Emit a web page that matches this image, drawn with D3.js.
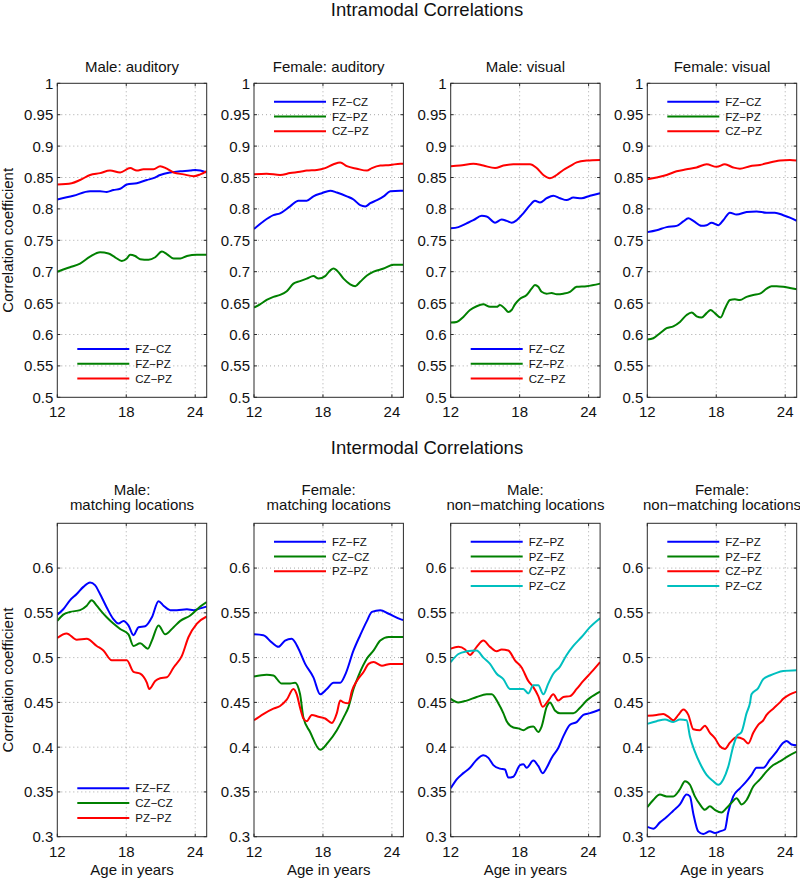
<!DOCTYPE html>
<html><head><meta charset="utf-8">
<script src="https://cdn.jsdelivr.net/npm/d3@7/dist/d3.min.js"></script>
<style>body{margin:0;background:#fff}svg{display:block;font-family:"Liberation Sans",Arial,Helvetica,sans-serif}</style>
</head><body><svg id="c" width="800" height="879"></svg>
<script>
// ---------- DATA ----------
const xTicks = [12, 18, 24];
const topYTicks = [0.5,0.55,0.6,0.65,0.7,0.75,0.8,0.85,0.9,0.95,1];
const topYTickLabels = ["0.5","0.55","0.6","0.65","0.7","0.75","0.8","0.85","0.9","0.95","1"];
const botYTicks = [0.3,0.35,0.4,0.45,0.5,0.55,0.6];
const botYTickLabels = ["0.3","0.35","0.4","0.45","0.5","0.55","0.6"];

const rowTitles = ["Intramodal Correlations", "Intermodal Correlations"];
const topPanelTitles = ["Male: auditory", "Female: auditory", "Male: visual", "Female: visual"];
const botPanelTitles = [["Male:", "matching locations"], ["Female:", "matching locations"],
                        ["Male:", "non\u2212matching locations"], ["Female:", "non\u2212matching locations"]];
const intraLegend = ["FZ\u2212CZ", "FZ\u2212PZ", "CZ\u2212PZ"];
const matchLegend = ["FZ\u2212FZ", "CZ\u2212CZ", "PZ\u2212PZ"];
const nonMatchLegend = ["FZ\u2212PZ", "PZ\u2212FZ", "CZ\u2212PZ", "PZ\u2212CZ"];
const seriesColors = ["#0000ff", "#008000", "#ff0000", "#00bfbf"];

// Male: auditory
const mAud_FZCZ = [[12,0.815],[13.4,0.821],[14.85,0.828],[15.72,0.828],[16.3,0.827],[16.88,0.830],[17.47,0.832],[18.05,0.839],[18.92,0.841],[19.79,0.846],[20.37,0.849],[20.95,0.854],[21.83,0.858],[22.7,0.860],[23.57,0.861],[24,0.862],[24.44,0.861],[25,0.858]];
const mAud_FZPZ = [[12,0.700],[13.1,0.707],[13.98,0.713],[14.85,0.724],[15.72,0.731],[16.45,0.729],[17.03,0.723],[17.61,0.717],[18.05,0.721],[18.34,0.727],[18.77,0.725],[19.21,0.720],[19.94,0.719],[20.52,0.723],[21.1,0.732],[21.53,0.728],[22.12,0.721],[22.7,0.721],[23.28,0.725],[24.15,0.727],[25,0.727]];
const mAud_CZPZ = [[12,0.839],[13.25,0.841],[13.98,0.846],[14.85,0.854],[15.72,0.857],[16.59,0.861],[17.47,0.858],[18.34,0.865],[18.92,0.861],[19.5,0.863],[20.37,0.863],[20.95,0.868],[21.53,0.864],[22.12,0.858],[22.99,0.855],[23.86,0.852],[24.44,0.855],[25,0.860]];
// Female: auditory
const fAud_FZCZ = [[12,0.768],[12.81,0.780],[13.69,0.790],[14.27,0.793],[15.14,0.804],[15.87,0.813],[16.59,0.813],[17.17,0.820],[17.9,0.825],[18.63,0.829],[19.21,0.826],[20.08,0.820],[20.66,0.815],[21.24,0.806],[21.68,0.804],[22.12,0.809],[22.7,0.814],[23.28,0.820],[23.86,0.828],[24.73,0.829],[25,0.829]];
const fAud_FZPZ = [[12,0.643],[12.52,0.648],[13.1,0.655],[13.69,0.660],[14.27,0.663],[14.85,0.669],[15.43,0.681],[16.01,0.685],[16.59,0.689],[17.17,0.693],[17.61,0.689],[18.19,0.693],[18.63,0.702],[18.92,0.705],[19.21,0.702],[19.79,0.689],[20.37,0.680],[20.81,0.677],[21.24,0.684],[21.83,0.694],[22.41,0.700],[23.28,0.705],[24.15,0.711],[25,0.711]];
const fAud_CZPZ = [[12,0.855],[13.1,0.856],[14.27,0.854],[15.14,0.857],[16.01,0.859],[16.59,0.861],[17.47,0.862],[18.19,0.865],[18.92,0.871],[19.5,0.874],[20.08,0.868],[20.95,0.864],[21.83,0.861],[22.26,0.865],[22.99,0.869],[23.86,0.870],[24.73,0.872],[25,0.872]];
// Male: visual
const mVis_FZCZ = [[12,0.769],[12.67,0.771],[13.39,0.777],[13.97,0.782],[14.7,0.789],[15.13,0.788],[15.86,0.778],[16.43,0.783],[16.87,0.781],[17.3,0.778],[17.74,0.782],[18.32,0.793],[18.9,0.806],[19.33,0.813],[19.77,0.810],[20.35,0.817],[20.93,0.821],[21.51,0.817],[22.09,0.814],[22.67,0.818],[23.39,0.817],[24.12,0.821],[25,0.825]];
const mVis_FZPZ = [[12,0.619],[12.52,0.620],[13.1,0.628],[13.68,0.639],[14.26,0.645],[14.84,0.648],[15.42,0.644],[16,0.644],[16.29,0.647],[16.72,0.641],[17.01,0.636],[17.3,0.639],[17.59,0.648],[18.03,0.657],[18.61,0.663],[19.04,0.673],[19.33,0.679],[19.62,0.676],[19.91,0.668],[20.35,0.665],[20.78,0.666],[21.22,0.664],[21.8,0.665],[22.38,0.668],[22.96,0.676],[23.83,0.677],[25,0.681]];
const mVis_CZPZ = [[12,0.868],[12.81,0.869],[13.97,0.872],[14.84,0.869],[15.86,0.865],[16.58,0.869],[17.45,0.871],[18.03,0.871],[18.9,0.871],[19.48,0.865],[20.06,0.854],[20.64,0.849],[21.22,0.854],[21.8,0.862],[22.38,0.868],[22.96,0.874],[23.83,0.877],[25,0.878]];
// Female: visual
const fVis_FZCZ = [[12,0.763],[12.81,0.766],[13.68,0.771],[14.55,0.773],[15.13,0.780],[15.57,0.785],[16,0.781],[16.72,0.773],[17.16,0.774],[17.59,0.778],[18.17,0.774],[18.61,0.782],[19.19,0.794],[19.77,0.791],[20.64,0.795],[21.51,0.796],[22.38,0.794],[23.1,0.794],[23.83,0.790],[24.41,0.786],[25,0.781]];
const fVis_FZPZ = [[12,0.592],[12.52,0.594],[13.1,0.602],[13.68,0.610],[14.26,0.613],[14.84,0.620],[15.42,0.631],[15.86,0.635],[16.29,0.629],[16.72,0.627],[17.16,0.634],[17.51,0.639],[17.88,0.634],[18.38,0.627],[18.75,0.641],[19.19,0.655],[19.62,0.656],[20.06,0.655],[20.64,0.660],[21.22,0.663],[21.8,0.665],[22.38,0.673],[22.81,0.677],[23.25,0.677],[23.83,0.676],[24.41,0.674],[25,0.672]];
const fVis_CZPZ = [[12,0.847],[12.81,0.850],[13.68,0.854],[14.55,0.860],[15.42,0.863],[16.29,0.866],[17.16,0.871],[18.03,0.867],[18.75,0.871],[19.48,0.866],[20.06,0.864],[20.93,0.868],[21.8,0.870],[22.67,0.874],[23.54,0.877],[24.41,0.878],[25,0.877]];
// Male: matching locations
const mMat_FZFZ = [[12,0.548],[12.52,0.554],[13.1,0.564],[13.69,0.571],[14.27,0.579],[14.85,0.584],[15.28,0.581],[15.72,0.571],[16.3,0.556],[16.88,0.543],[17.32,0.538],[17.76,0.541],[18.19,0.536],[18.63,0.525],[19.07,0.534],[19.65,0.535],[20.23,0.545],[20.81,0.563],[21.24,0.558],[21.83,0.553],[22.41,0.553],[23.28,0.554],[23.86,0.553],[24.44,0.555],[25,0.557]];
const mMat_CZCZ = [[12,0.541],[12.52,0.548],[13.1,0.551],[13.98,0.553],[14.56,0.558],[14.99,0.564],[15.43,0.558],[15.87,0.551],[16.3,0.545],[16.88,0.538],[17.47,0.532],[18.19,0.526],[18.63,0.513],[19.21,0.516],[19.88,0.510],[20.23,0.519],[20.81,0.536],[21.39,0.526],[22.12,0.534],[22.7,0.541],[23.57,0.547],[24.44,0.557],[25,0.562]];
const mMat_PZPZ = [[12,0.522],[12.81,0.527],[13.69,0.520],[14.56,0.521],[15.43,0.513],[16.01,0.508],[16.74,0.497],[17.47,0.497],[18.05,0.497],[18.63,0.484],[19.21,0.482],[19.79,0.472],[20,0.465],[20.52,0.474],[20.95,0.477],[21.53,0.478],[22.12,0.489],[22.84,0.502],[23.42,0.523],[24.15,0.538],[25,0.546]];
// Female: matching locations
const fMat_FZFZ = [[12,0.526],[12.81,0.525],[13.54,0.517],[14.12,0.512],[14.7,0.519],[15.28,0.521],[15.87,0.510],[16.45,0.493],[17.17,0.478],[17.76,0.459],[18.34,0.465],[18.92,0.472],[19.5,0.472],[19.94,0.481],[20.66,0.508],[21.24,0.525],[21.83,0.541],[22.26,0.551],[22.99,0.553],[23.72,0.549],[24.73,0.543],[25,0.542]];
const fMat_CZCZ = [[12,0.479],[13.1,0.481],[13.69,0.480],[14.41,0.471],[15.14,0.471],[15.58,0.472],[16.01,0.459],[16.3,0.433],[16.88,0.417],[17.76,0.397],[18.48,0.406],[19.21,0.419],[19.79,0.433],[20.23,0.445],[20.66,0.465],[21.1,0.480],[21.83,0.499],[22.41,0.508],[22.99,0.519],[23.72,0.523],[25,0.523]];
const fMat_PZPZ = [[12,0.430],[12.81,0.437],[13.69,0.443],[14.27,0.446],[14.85,0.453],[15.43,0.465],[15.72,0.459],[16.01,0.444],[16.3,0.432],[16.59,0.429],[17.03,0.436],[17.61,0.434],[18.19,0.432],[18.77,0.427],[19.21,0.438],[19.5,0.452],[19.79,0.450],[20.23,0.449],[20.52,0.463],[20.95,0.474],[21.53,0.484],[21.97,0.493],[22.41,0.495],[23.13,0.491],[23.86,0.493],[25,0.493]];
// Male: non-matching locations
const mNon_FZPZ = [[12,0.354],[12.52,0.364],[13.1,0.371],[13.68,0.377],[14.26,0.386],[14.84,0.391],[15.28,0.388],[15.71,0.380],[16.29,0.376],[16.72,0.375],[17.01,0.366],[17.45,0.367],[18.03,0.380],[18.32,0.381],[18.61,0.377],[19.19,0.385],[19.62,0.379],[20,0.371],[20.35,0.377],[20.78,0.388],[21.36,0.399],[21.8,0.412],[22.38,0.425],[22.96,0.428],[23.54,0.436],[24.12,0.438],[25,0.442]];
const mNon_PZFZ = [[12,0.454],[12.67,0.450],[13.39,0.452],[14.26,0.456],[15.13,0.459],[15.57,0.459],[16.14,0.449],[16.58,0.438],[16.87,0.429],[17.45,0.422],[17.88,0.421],[18.32,0.419],[18.75,0.422],[19.19,0.423],[19.62,0.417],[19.91,0.423],[20.35,0.445],[20.64,0.450],[21.07,0.441],[21.51,0.438],[22.09,0.438],[22.67,0.438],[23.25,0.444],[23.83,0.452],[24.12,0.455],[25,0.462]];
const mNon_CZPZ = [[12,0.510],[12.67,0.512],[13.25,0.509],[13.68,0.503],[14.26,0.512],[14.84,0.519],[15.42,0.512],[16,0.507],[16.43,0.509],[17.01,0.508],[17.59,0.497],[18.17,0.489],[18.75,0.474],[19.19,0.467],[19.62,0.457],[20,0.445],[20.49,0.452],[20.93,0.459],[21.36,0.452],[21.8,0.456],[22.38,0.457],[22.96,0.465],[23.54,0.474],[24.26,0.484],[25,0.495]];
const mNon_PZCZ = [[12,0.495],[12.67,0.504],[13.39,0.507],[14.26,0.508],[14.84,0.500],[15.42,0.493],[16,0.482],[16.58,0.476],[17.16,0.465],[17.74,0.465],[18.32,0.465],[18.75,0.460],[19.19,0.469],[19.62,0.469],[20.06,0.459],[20.49,0.471],[20.93,0.482],[21.51,0.490],[22.09,0.503],[22.67,0.513],[23.39,0.523],[24.12,0.534],[25,0.544]];
// Female: non-matching locations
const fNon_FZPZ = [[12,0.311],[12.52,0.309],[13.1,0.316],[13.68,0.322],[14.26,0.329],[14.84,0.336],[15.42,0.347],[15.71,0.345],[16,0.326],[16.43,0.306],[16.87,0.303],[17.45,0.306],[17.88,0.304],[18.32,0.306],[18.75,0.308],[19.04,0.327],[19.48,0.345],[20.06,0.354],[20.64,0.362],[21.07,0.369],[21.51,0.377],[22.09,0.377],[22.67,0.386],[23.25,0.395],[23.83,0.405],[24.12,0.407],[24.55,0.403],[25,0.402]];
const fNon_PZFZ = [[12,0.333],[12.52,0.341],[13.1,0.347],[13.68,0.345],[14.26,0.345],[14.84,0.353],[15.28,0.362],[15.71,0.358],[16.14,0.345],[16.58,0.336],[17.01,0.330],[17.45,0.334],[17.88,0.330],[18.46,0.327],[18.9,0.332],[19.33,0.338],[19.77,0.343],[20.2,0.336],[20.64,0.341],[21.22,0.356],[21.8,0.364],[22.38,0.373],[22.96,0.380],[23.54,0.384],[24.26,0.390],[25,0.395]];
const fNon_CZPZ = [[12,0.435],[12.81,0.436],[13.39,0.437],[13.83,0.434],[14.26,0.430],[14.7,0.436],[15.13,0.442],[15.57,0.436],[16,0.420],[16.58,0.419],[17.01,0.424],[17.45,0.416],[17.88,0.410],[18.32,0.401],[18.75,0.398],[19.19,0.405],[19.77,0.411],[20.35,0.409],[20.78,0.404],[21.22,0.416],[21.65,0.425],[22.09,0.430],[22.38,0.436],[22.96,0.443],[23.54,0.450],[23.83,0.454],[24.41,0.459],[25,0.462]];
const fNon_PZCZ = [[12,0.426],[12.81,0.429],[13.54,0.431],[14.26,0.428],[14.84,0.431],[15.42,0.430],[15.71,0.412],[16.14,0.395],[16.58,0.382],[17.16,0.369],[17.74,0.362],[18.17,0.358],[18.61,0.364],[19.04,0.378],[19.48,0.401],[19.77,0.412],[20.2,0.417],[20.64,0.438],[20.93,0.449],[21.07,0.459],[21.65,0.466],[22.09,0.476],[22.67,0.480],[23.25,0.483],[23.83,0.485],[25,0.486]];

// ---------- LAYOUT ----------
const svg = d3.select("#c");
const font = '"Liberation Sans", Arial, Helvetica, sans-serif';
const panelLefts = [57.3, 254, 450.7, 647.3];
const panelW = 149.4;
const plotCenter = (panelLefts[0] + panelLefts[3] + panelW) / 2;

const rows = [
  { title: rowTitles[0], titleY: 16, top: 83.3, bottom: 397.3, domain: [0.5, 1],
    yTicks: topYTicks, yLabels: topYTickLabels, xLabelY: 416.7, xAxisTitle: false,
    panels: [
      { title: [topPanelTitles[0]], series: [mAud_FZCZ, mAud_FZPZ, mAud_CZPZ], legend: intraLegend, legendPos: "bottom" },
      { title: [topPanelTitles[1]], series: [fAud_FZCZ, fAud_FZPZ, fAud_CZPZ], legend: intraLegend, legendPos: "top" },
      { title: [topPanelTitles[2]], series: [mVis_FZCZ, mVis_FZPZ, mVis_CZPZ], legend: intraLegend, legendPos: "bottom" },
      { title: [topPanelTitles[3]], series: [fVis_FZCZ, fVis_FZPZ, fVis_CZPZ], legend: intraLegend, legendPos: "top" }
    ] },
  { title: rowTitles[1], titleY: 453.5, top: 523.3, bottom: 836.7, domain: [0.3, 0.65],
    yTicks: botYTicks, yLabels: botYTickLabels, xLabelY: 856.5, xAxisTitle: true,
    panels: [
      { title: botPanelTitles[0], series: [mMat_FZFZ, mMat_CZCZ, mMat_PZPZ], legend: matchLegend, legendPos: "bottom" },
      { title: botPanelTitles[1], series: [fMat_FZFZ, fMat_CZCZ, fMat_PZPZ], legend: matchLegend, legendPos: "top" },
      { title: botPanelTitles[2], series: [mNon_FZPZ, mNon_PZFZ, mNon_CZPZ, mNon_PZCZ], legend: nonMatchLegend, legendPos: "top" },
      { title: botPanelTitles[3], series: [fNon_FZPZ, fNon_PZFZ, fNon_CZPZ, fNon_PZCZ], legend: nonMatchLegend, legendPos: "top" }
    ] }
];

const frameColor = "#2b2b2b";
const gridColor = "#a8a8a8";
let clipId = 0;

rows.forEach((row, ri) => {
  svg.append("text").attr("x", plotCenter).attr("y", row.titleY)
    .attr("text-anchor", "middle").attr("font-family", font).attr("font-size", 18.5)
    .attr("fill", "#111").text(row.title);

  const y = d3.scaleLinear().domain(row.domain).range([row.bottom, row.top]);

  // y-axis title
  const yc = (row.top + row.bottom) / 2;
  svg.append("text").attr("transform", `translate(12.5,${yc}) rotate(-90)`)
    .attr("text-anchor", "middle").attr("font-family", font).attr("font-size", 15)
    .attr("fill", "#111").text("Correlation coefficient");

  row.panels.forEach((p, pi) => {
    const left = panelLefts[pi];
    const x = d3.scaleLinear().domain([12, 25]).range([left, left + panelW]);
    const g = svg.append("g");

    // grid
    g.selectAll(".vg").data(xTicks.slice(1)).join("line")
      .attr("x1", d => x(d)).attr("x2", d => x(d)).attr("y1", row.top).attr("y2", row.bottom)
      .attr("stroke", gridColor).attr("stroke-width", 1).attr("stroke-dasharray", "1,3");
    g.selectAll(".hg").data(row.yTicks.filter(t => t !== row.domain[0] && t !== row.domain[1])).join("line")
      .attr("x1", left).attr("x2", left + panelW).attr("y1", d => y(d)).attr("y2", d => y(d))
      .attr("stroke", gridColor).attr("stroke-width", 1).attr("stroke-dasharray", "1,3");

    // tick marks (inward, all sides)
    const tl = 3;
    row.yTicks.forEach(t => {
      g.append("line").attr("x1", left).attr("x2", left + tl).attr("y1", y(t)).attr("y2", y(t)).attr("stroke", frameColor);
      g.append("line").attr("x1", left + panelW - tl).attr("x2", left + panelW).attr("y1", y(t)).attr("y2", y(t)).attr("stroke", frameColor);
    });
    xTicks.forEach(t => {
      g.append("line").attr("x1", x(t)).attr("x2", x(t)).attr("y1", row.bottom).attr("y2", row.bottom - tl).attr("stroke", frameColor);
      g.append("line").attr("x1", x(t)).attr("x2", x(t)).attr("y1", row.top).attr("y2", row.top + tl).attr("stroke", frameColor);
    });

    // tick labels
    g.selectAll(".yl").data(row.yTicks).join("text")
      .attr("x", left - 4).attr("y", d => y(d)).attr("dy", "0.36em")
      .attr("text-anchor", "end").attr("font-family", font).attr("font-size", 15).attr("fill", "#111")
      .text((d, i) => row.yLabels[i]);
    g.selectAll(".xl").data(xTicks).join("text")
      .attr("x", d => x(d)).attr("y", row.xLabelY)
      .attr("text-anchor", "middle").attr("font-family", font).attr("font-size", 15).attr("fill", "#111")
      .text(d => String(d));

    if (row.xAxisTitle) {
      g.append("text").attr("x", left + panelW / 2).attr("y", 875)
        .attr("text-anchor", "middle").attr("font-family", font).attr("font-size", 15).attr("fill", "#111")
        .text("Age in years");
    }

    // panel title
    const nT = p.title.length;
    const tEl = g.append("text").attr("text-anchor", "middle").attr("font-family", font)
      .attr("font-size", 15).attr("fill", "#111");
    p.title.forEach((t, k) => {
      const baseY = nT === 1 ? 71.7 : 495 + k * 15.3;
      tEl.append("tspan").attr("x", left + panelW / 2).attr("y", baseY).text(t);
    });

    // clip
    const cid = "clip" + (clipId++);
    svg.append("clipPath").attr("id", cid).append("rect")
      .attr("x", left).attr("y", row.top).attr("width", panelW).attr("height", row.bottom - row.top);

    const line = d3.line().x(d => x(d[0])).y(d => y(d[1])).curve(d3.curveMonotoneX);
    const lg = g.append("g").attr("clip-path", `url(#${cid})`);
    p.series.forEach((s, si) => {
      lg.append("path").attr("d", line(s)).attr("fill", "none")
        .attr("stroke", seriesColors[si]).attr("stroke-width", 2).attr("stroke-linejoin", "round");
    });

    // legend
    const n = p.legend.length;
    const spacing = 14.8;
    const firstY = p.legendPos === "top" ? row.top + 18.4 : row.bottom - 18.8 - (n - 1) * spacing;
    p.legend.forEach((lab, k) => {
      const ly = firstY + k * spacing;
      g.append("line").attr("x1", left + 20).attr("x2", left + 72).attr("y1", ly).attr("y2", ly)
        .attr("stroke", seriesColors[k]).attr("stroke-width", 2);
      g.append("text").attr("x", left + 78).attr("y", ly).attr("dy", "0.36em")
        .attr("font-family", font).attr("font-size", 11.5).attr("fill", "#111").text(lab);
    });

    // frame
    g.append("rect").attr("x", left).attr("y", row.top).attr("width", panelW).attr("height", row.bottom - row.top)
      .attr("fill", "none").attr("stroke", frameColor).attr("stroke-width", 1);
  });
});
</script></body></html>
